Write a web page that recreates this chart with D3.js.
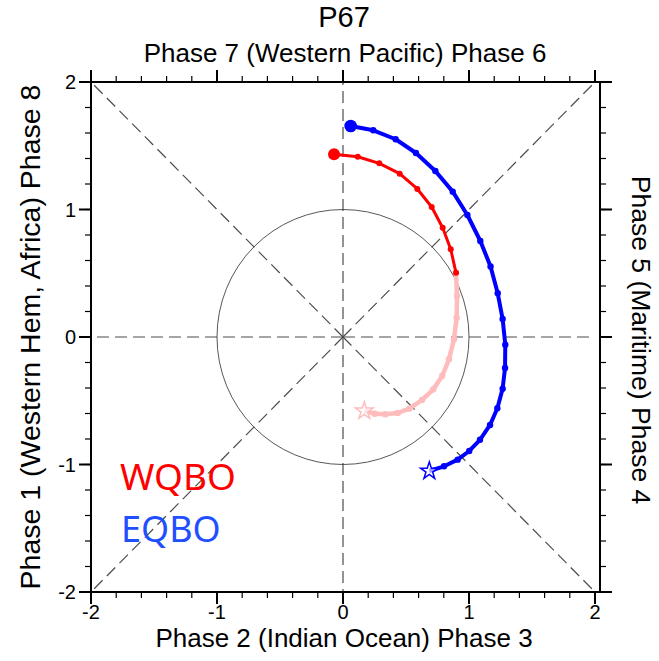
<!DOCTYPE html>
<html>
<head>
<meta charset="utf-8">
<script src="https://cdn.jsdelivr.net/npm/d3@7"></script>
<style>
body { margin: 0; background: #fff; }
text { font-family: "Liberation Sans", Arial, sans-serif; }
</style>
</head>
<body>
<script>
// RMM1 / RMM2 trajectories
var eqboX = [0.061, 0.240, 0.418, 0.579, 0.733, 0.871, 0.987, 1.090, 1.171, 1.228, 1.267, 1.288, 1.286, 1.267, 1.225, 1.167, 1.087, 1.002, 0.910, 0.802, 0.685];
var eqboY = [1.655, 1.621, 1.551, 1.443, 1.302, 1.140, 0.957, 0.753, 0.553, 0.343, 0.141, -0.060, -0.243, -0.405, -0.559, -0.690, -0.806, -0.894, -0.962, -1.014, -1.051];
var wqboX = [-0.071, 0.117, 0.288, 0.450, 0.590, 0.704, 0.791, 0.855, 0.897, 0.905, 0.902, 0.881, 0.841, 0.788, 0.717, 0.627, 0.526, 0.434, 0.336, 0.252, 0.169];
var wqboY = [1.433, 1.414, 1.362, 1.281, 1.161, 1.020, 0.857, 0.688, 0.504, 0.322, 0.151, -0.018, -0.175, -0.304, -0.410, -0.494, -0.562, -0.596, -0.606, -0.602, -0.580];
var wqboSplit = 8; // red up to here, pink after
var majorTicks = [-2, -1, 0, 1, 2];
var minorTicks = d3.range(-2, 2.001, 0.2);
var title = "P67";
var topLabel = "Phase 7 (Western Pacific) Phase 6";
var bottomLabel = "Phase 2 (Indian Ocean) Phase 3";
var leftLabel = "Phase 1 (Western Hem, Africa) Phase 8";
var rightLabel = "Phase 5 (Maritime) Phase 4";

var W = 659, H = 661;
var svg = d3.select("body").append("svg").attr("width", W).attr("height", H);

var x = d3.scaleLinear().domain([-2, 2]).range([91, 595]);
var y = d3.scaleLinear().domain([-2, 2]).range([592, 82]);
var frameL = 91, frameR = 600, frameT = 82, frameB = 592;

// dashed phase lines, drawn from origin outwards
var rays = [[2, 0], [-2, 0], [0, 2], [0, -2], [2, 2], [-2, 2], [2, -2], [-2, -2]];
svg.selectAll("line.ray").data(rays).enter().append("line")
    .attr("class", "ray")
    .attr("x1", x(0)).attr("y1", y(0))
    .attr("x2", function(d) { return x(d[0]); })
    .attr("y2", function(d) { return y(d[1]); })
    .attr("stroke", "#4d4d4d").attr("stroke-width", 1.2)
    .attr("stroke-dasharray", "12,6");

// unit circle
svg.append("ellipse")
    .attr("cx", x(0)).attr("cy", y(0))
    .attr("rx", x(1) - x(0)).attr("ry", y(0) - y(1))
    .attr("fill", "none").attr("stroke", "#444").attr("stroke-width", 0.9);

// frame
svg.append("rect")
    .attr("x", frameL).attr("y", frameT)
    .attr("width", frameR - frameL).attr("height", frameB - frameT)
    .attr("fill", "none").attr("stroke", "#000").attr("stroke-width", 2);

// ticks (outward), minor then major
function drawTicks(vals, len, w) {
  vals.forEach(function(v) {
    svg.append("line").attr("x1", x(v)).attr("x2", x(v)).attr("y1", frameB).attr("y2", frameB + len)
      .attr("stroke", "#000").attr("stroke-width", w);
    svg.append("line").attr("x1", x(v)).attr("x2", x(v)).attr("y1", frameT).attr("y2", frameT - len)
      .attr("stroke", "#000").attr("stroke-width", w);
    svg.append("line").attr("y1", y(v)).attr("y2", y(v)).attr("x1", frameL).attr("x2", frameL - len)
      .attr("stroke", "#000").attr("stroke-width", w);
    svg.append("line").attr("y1", y(v)).attr("y2", y(v)).attr("x1", frameR).attr("x2", frameR + len)
      .attr("stroke", "#000").attr("stroke-width", w);
  });
}
drawTicks(minorTicks, 6, 1.2);
drawTicks(majorTicks, 12, 2);

// tick labels
svg.selectAll("text.xt").data(majorTicks).enter().append("text")
    .attr("x", function(d) { return x(d); }).attr("y", 619)
    .attr("text-anchor", "middle").attr("font-size", 20)
    .text(function(d) { return d; });
svg.selectAll("text.yt").data(majorTicks).enter().append("text")
    .attr("x", 76).attr("y", function(d) { return y(d) + 7; })
    .attr("text-anchor", "end").attr("font-size", 20)
    .text(function(d) { return d; });

// titles
svg.append("text").attr("x", 344).attr("y", 27).attr("text-anchor", "middle")
    .attr("font-size", 29).text(title);
svg.append("text").attr("x", 345).attr("y", 62).attr("text-anchor", "middle")
    .attr("font-size", 26).text(topLabel);
svg.append("text").attr("x", 344).attr("y", 647).attr("text-anchor", "middle")
    .attr("font-size", 26).text(bottomLabel);
svg.append("text").attr("transform", "translate(40,337) rotate(-90)").attr("text-anchor", "middle")
    .attr("font-size", 28.5).text(leftLabel);
svg.append("text").attr("transform", "translate(632,340) rotate(90)").attr("text-anchor", "middle")
    .attr("font-size", 26.5).text(rightLabel);

// trajectories
var line = d3.line().x(function(d) { return x(d[0]); }).y(function(d) { return y(d[1]); });
var eqbo = d3.zip(eqboX, eqboY);
var wqbo = d3.zip(wqboX, wqboY);
var wqboRed = wqbo.slice(0, wqboSplit + 1);
var wqboPink = wqbo.slice(wqboSplit);

function drawTrack(pts, color, lw, r) {
  svg.append("path").attr("d", line(pts)).attr("fill", "none")
    .attr("stroke", color).attr("stroke-width", lw).attr("stroke-linejoin", "round");
  svg.append("g").selectAll("circle").data(pts).enter().append("circle")
    .attr("cx", function(d) { return x(d[0]); }).attr("cy", function(d) { return y(d[1]); })
    .attr("r", r).attr("fill", color);
}
drawTrack(wqboPink.slice(0, -1), "#ffbcbc", 4.5, 3.2);
drawTrack(wqboRed, "#ff0000", 3, 3);
drawTrack(eqbo.slice(0, -1), "#0000ff", 4, 3.2);
// last segment to the star
svg.append("path").attr("d", line(wqboPink.slice(-2))).attr("fill", "none")
  .attr("stroke", "#ffbcbc").attr("stroke-width", 4.5);
svg.append("path").attr("d", line(eqbo.slice(-2))).attr("fill", "none")
  .attr("stroke", "#0000ff").attr("stroke-width", 4);

// start dots
svg.append("circle").attr("cx", x(eqbo[0][0])).attr("cy", y(eqbo[0][1])).attr("r", 6.3).attr("fill", "#0000ff");
svg.append("circle").attr("cx", x(wqbo[0][0])).attr("cy", y(wqbo[0][1])).attr("r", 6).attr("fill", "#ff0000");

// end stars
var star = d3.symbol().type(d3.symbolStar).size(95);
var eEnd = eqbo[eqbo.length - 1], wEnd = wqbo[wqbo.length - 1];
svg.append("path").attr("d", star())
  .attr("transform", "translate(" + x(eEnd[0]) + "," + y(eEnd[1]) + ")")
  .attr("fill", "#fff").attr("fill-opacity", 0.6).attr("stroke", "#0000ff").attr("stroke-width", 1.5);
svg.append("path").attr("d", star())
  .attr("transform", "translate(" + x(wEnd[0]) + "," + y(wEnd[1]) + ")")
  .attr("fill", "#fff").attr("fill-opacity", 0.6).attr("stroke", "#ffbcbc").attr("stroke-width", 1.5);

// legend text
svg.append("text").attr("x", 120).attr("y", 490)
  .style("font-family", "'Noto Sans', sans-serif")
  .attr("font-size", 37).attr("fill", "#ff0000").text("WQBO");
svg.append("text").attr("x", 121).attr("y", 542)
  .style("font-family", "'Noto Sans', sans-serif")
  .attr("font-size", 36).attr("fill", "#1f4fff").text("EQBO");
</script>
</body>
</html>
